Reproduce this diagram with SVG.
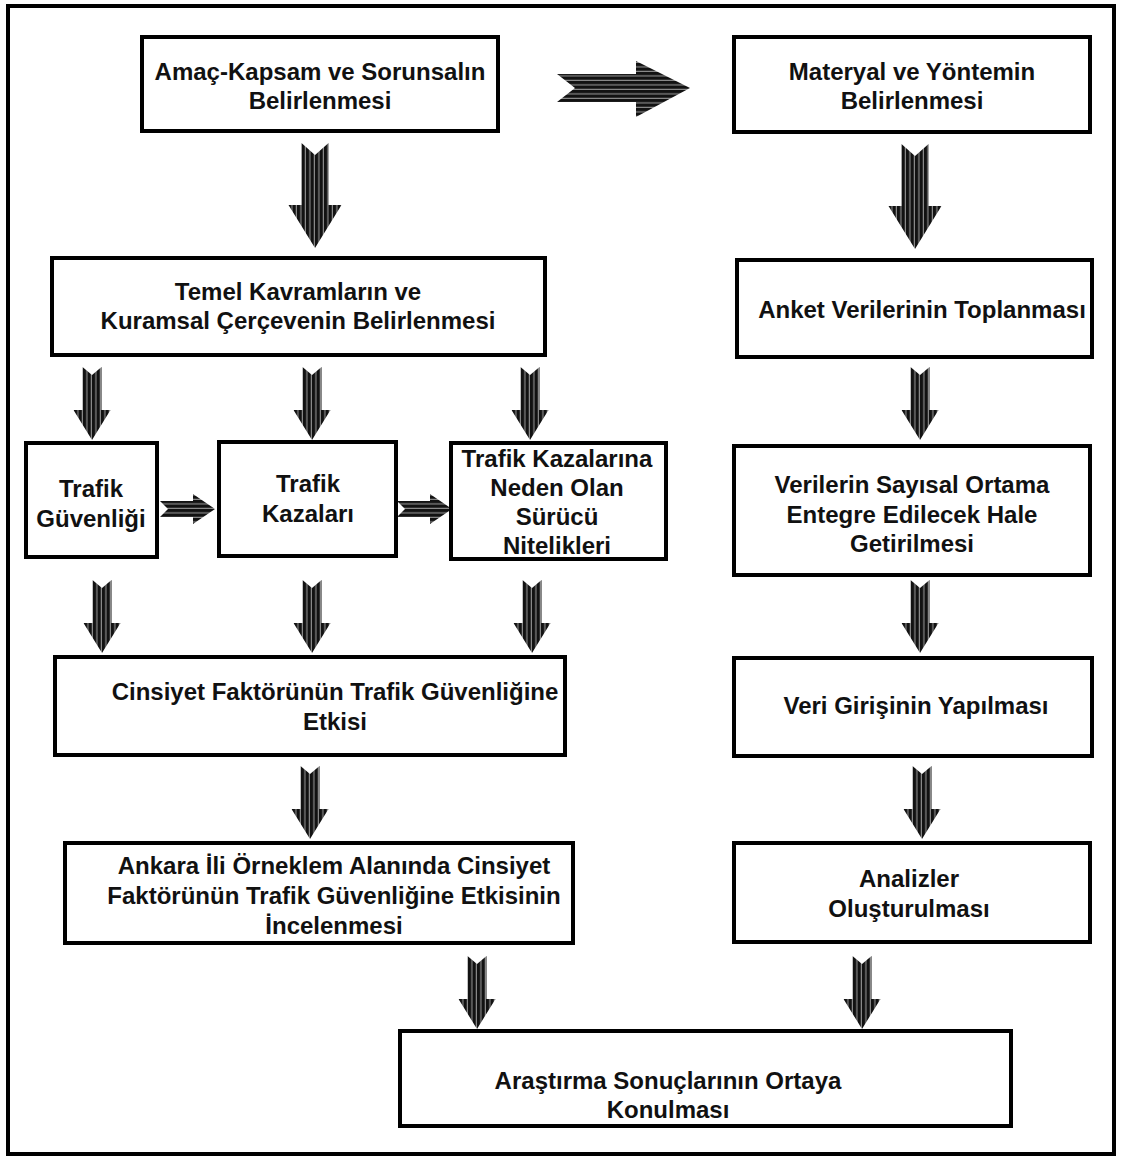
<svg xmlns="http://www.w3.org/2000/svg" xmlns:xlink="http://www.w3.org/1999/xlink" width="1123" height="1158" viewBox="0 0 1123 1158">
<style>
.box{fill:#fff;stroke:#000;stroke-width:4}
.t{font-family:"Liberation Sans",Arial,sans-serif;font-weight:bold;font-size:24px;fill:#111;text-anchor:middle}
.v{fill:url(#vs)}
.h{fill:url(#hs)}
</style>
<defs>
<pattern id="vs" patternUnits="userSpaceOnUse" width="4.5" height="10">
<rect width="4.5" height="10" fill="#121212"/>
<rect x="3.4" width="0.9" height="10" fill="#b0b0b0"/>
</pattern>
<pattern id="hs" patternUnits="userSpaceOnUse" width="10" height="4.5">
<rect width="10" height="4.5" fill="#121212"/>
<rect y="3.4" width="10" height="0.9" fill="#b0b0b0"/>
</pattern>
<path id="bigDown" d="M-13.5,0 L0,12 L13.5,0 L13.5,62 L26.5,62 L0,105 L-26.5,62 L-13.5,62 Z"/>
<path id="smDown" d="M-9.5,0 L0,8 L9.5,0 L9.5,43 L18.5,43 L0,73 L-18.5,43 L-9.5,43 Z"/>
<path id="smRight" d="M0,-8 L33,-8 L33,-15 L55,0 L33,15 L33,8 L0,8 L8,0 Z"/>
</defs>
<rect x="8" y="6" width="1106" height="1148" fill="#fff" stroke="#000" stroke-width="4"/>

<g id="connectors">
<path class="h" d="M557,74 L636,74 L636,61 L690,88 L636,117 L636,102 L557,102 L575,88 Z"/>
<use xlink:href="#bigDown" class="v" x="315" y="143"/>
<use xlink:href="#bigDown" class="v" x="915" y="144"/>
<use xlink:href="#smDown" class="v" x="92" y="367"/>
<use xlink:href="#smDown" class="v" x="312" y="367"/>
<use xlink:href="#smDown" class="v" x="530" y="367"/>
<use xlink:href="#smDown" class="v" x="920" y="367"/>
<use xlink:href="#smDown" class="v" x="102" y="580"/>
<use xlink:href="#smDown" class="v" x="312" y="580"/>
<use xlink:href="#smDown" class="v" x="532" y="580"/>
<use xlink:href="#smDown" class="v" x="920" y="580"/>
<use xlink:href="#smDown" class="v" x="310" y="766"/>
<use xlink:href="#smDown" class="v" x="922" y="766"/>
<use xlink:href="#smDown" class="v" x="477" y="956"/>
<use xlink:href="#smDown" class="v" x="862" y="956"/>
<use xlink:href="#smRight" class="h" x="160" y="509"/>
<use xlink:href="#smRight" class="h" x="397" y="509"/>
</g>

<g id="n1"><rect class="box" x="142" y="37" width="356" height="94"/>
<text class="t" x="320" y="80">Amaç-Kapsam ve Sorunsalın</text><text class="t" x="320" y="109">Belirlenmesi</text></g>
<g id="n2"><rect class="box" x="734" y="37" width="356" height="95"/>
<text class="t" x="912" y="80">Materyal ve Yöntemin</text><text class="t" x="912" y="109">Belirlenmesi</text></g>
<g id="n3"><rect class="box" x="52" y="258" width="493" height="97"/>
<text class="t" x="298" y="300">Temel Kavramların ve</text><text class="t" x="298" y="329">Kuramsal Çerçevenin Belirlenmesi</text></g>
<g id="n4"><rect class="box" x="737" y="260" width="355" height="97"/>
<text class="t" x="922" y="318">Anket Verilerinin Toplanması</text></g>
<g id="n5"><rect class="box" x="26" y="443" width="131" height="114"/>
<text class="t" x="91" y="497">Trafik</text><text class="t" x="91" y="527">Güvenliği</text></g>
<g id="n6"><rect class="box" x="219" y="442" width="177" height="114"/>
<text class="t" x="308" y="492">Trafik</text><text class="t" x="308" y="522">Kazaları</text></g>
<g id="n7"><rect class="box" x="451" y="443" width="215" height="116"/>
<text class="t" x="557" y="467">Trafik Kazalarına</text><text class="t" x="557" y="496">Neden Olan</text><text class="t" x="557" y="525">Sürücü</text><text class="t" x="557" y="554">Nitelikleri</text></g>
<g id="n8"><rect class="box" x="734" y="446" width="356" height="129"/>
<text class="t" x="912" y="493">Verilerin Sayısal Ortama</text><text class="t" x="912" y="523">Entegre Edilecek Hale</text><text class="t" x="912" y="552">Getirilmesi</text></g>
<g id="n9"><rect class="box" x="55" y="657" width="510" height="98"/>
<text class="t" x="335" y="700">Cinsiyet Faktörünün Trafik Güvenliğine</text><text class="t" x="335" y="730">Etkisi</text></g>
<g id="n10"><rect class="box" x="734" y="658" width="358" height="98"/>
<text class="t" x="916" y="714">Veri Girişinin Yapılması</text></g>
<g id="n11"><rect class="box" x="65" y="843" width="508" height="100"/>
<text class="t" x="334" y="874">Ankara İli Örneklem Alanında Cinsiyet</text><text class="t" x="334" y="904">Faktörünün Trafik Güvenliğine Etkisinin</text><text class="t" x="334" y="934">İncelenmesi</text></g>
<g id="n12"><rect class="box" x="734" y="843" width="356" height="99"/>
<text class="t" x="909" y="887">Analizler</text><text class="t" x="909" y="917">Oluşturulması</text></g>
<g id="n13"><rect class="box" x="400" y="1031" width="611" height="95"/>
<text class="t" x="668" y="1089">Araştırma Sonuçlarının Ortaya</text><text class="t" x="668" y="1118">Konulması</text></g>
</svg>
